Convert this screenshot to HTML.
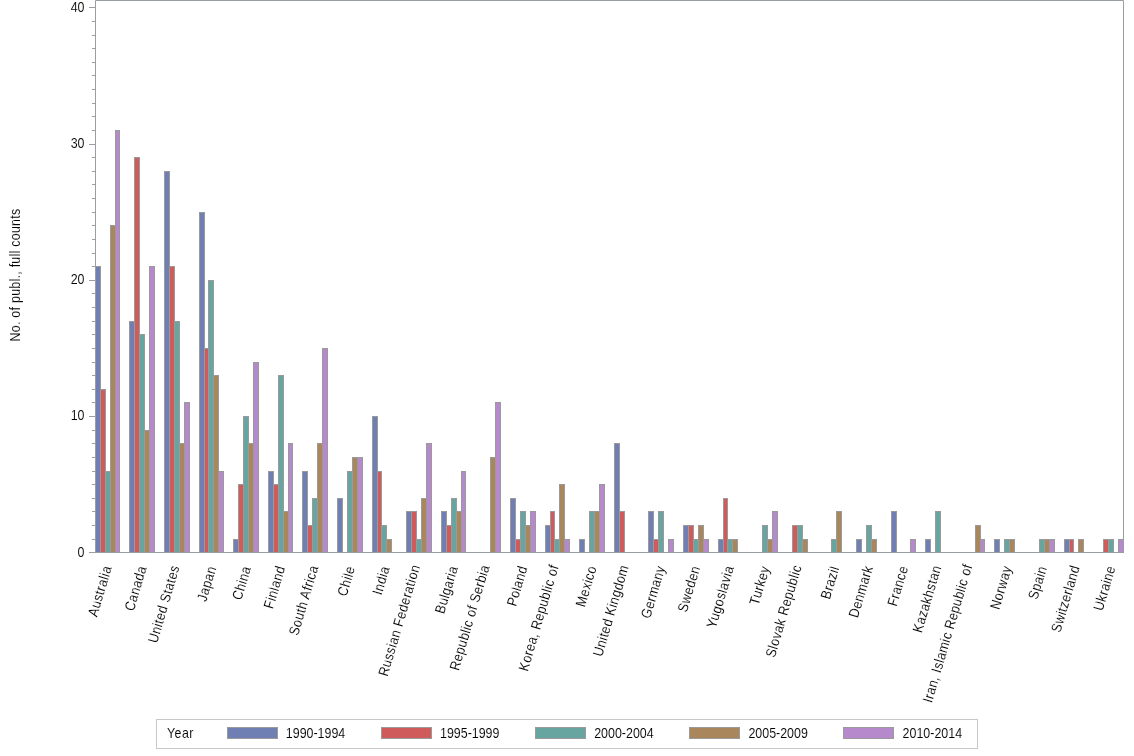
<!DOCTYPE html>
<html><head><meta charset="utf-8"><style>
html,body{margin:0;padding:0;background:#fff;width:1134px;height:756px;overflow:hidden}
svg{display:block;will-change:transform}
text{font-family:"Liberation Sans",sans-serif;font-size:14.3px;fill:#000;stroke:#fff;stroke-width:0.1px}
</style></head><body>
<svg width="1134" height="756" viewBox="0 0 1134 756">
<rect width="1134" height="756" fill="#fff"/>
<rect x="95.5" y="266.5" width="5" height="286" fill="#6F7EB3" stroke="#9A9A9A"/>
<rect x="100.5" y="389.5" width="5" height="163" fill="#D05B5B" stroke="#9A9A9A"/>
<rect x="105.5" y="471.5" width="5" height="81" fill="#66A5A0" stroke="#9A9A9A"/>
<rect x="110.5" y="225.5" width="5" height="327" fill="#A9865B" stroke="#9A9A9A"/>
<rect x="115.5" y="130.5" width="4" height="422" fill="#B689CD" stroke="#9A9A9A"/>
<rect x="129.5" y="321.5" width="5" height="231" fill="#6F7EB3" stroke="#9A9A9A"/>
<rect x="134.5" y="157.5" width="5" height="395" fill="#D05B5B" stroke="#9A9A9A"/>
<rect x="139.5" y="334.5" width="5" height="218" fill="#66A5A0" stroke="#9A9A9A"/>
<rect x="144.5" y="430.5" width="5" height="122" fill="#A9865B" stroke="#9A9A9A"/>
<rect x="149.5" y="266.5" width="5" height="286" fill="#B689CD" stroke="#9A9A9A"/>
<rect x="164.5" y="171.5" width="5" height="381" fill="#6F7EB3" stroke="#9A9A9A"/>
<rect x="169.5" y="266.5" width="5" height="286" fill="#D05B5B" stroke="#9A9A9A"/>
<rect x="174.5" y="321.5" width="5" height="231" fill="#66A5A0" stroke="#9A9A9A"/>
<rect x="179.5" y="443.5" width="5" height="109" fill="#A9865B" stroke="#9A9A9A"/>
<rect x="184.5" y="402.5" width="5" height="150" fill="#B689CD" stroke="#9A9A9A"/>
<rect x="199.5" y="212.5" width="5" height="340" fill="#6F7EB3" stroke="#9A9A9A"/>
<rect x="204.5" y="348.5" width="4" height="204" fill="#D05B5B" stroke="#9A9A9A"/>
<rect x="208.5" y="280.5" width="5" height="272" fill="#66A5A0" stroke="#9A9A9A"/>
<rect x="213.5" y="375.5" width="5" height="177" fill="#A9865B" stroke="#9A9A9A"/>
<rect x="218.5" y="471.5" width="5" height="81" fill="#B689CD" stroke="#9A9A9A"/>
<rect x="233.5" y="539.5" width="5" height="13" fill="#6F7EB3" stroke="#9A9A9A"/>
<rect x="238.5" y="484.5" width="5" height="68" fill="#D05B5B" stroke="#9A9A9A"/>
<rect x="243.5" y="416.5" width="5" height="136" fill="#66A5A0" stroke="#9A9A9A"/>
<rect x="248.5" y="443.5" width="5" height="109" fill="#A9865B" stroke="#9A9A9A"/>
<rect x="253.5" y="362.5" width="5" height="190" fill="#B689CD" stroke="#9A9A9A"/>
<rect x="268.5" y="471.5" width="5" height="81" fill="#6F7EB3" stroke="#9A9A9A"/>
<rect x="273.5" y="484.5" width="5" height="68" fill="#D05B5B" stroke="#9A9A9A"/>
<rect x="278.5" y="375.5" width="5" height="177" fill="#66A5A0" stroke="#9A9A9A"/>
<rect x="283.5" y="511.5" width="5" height="41" fill="#A9865B" stroke="#9A9A9A"/>
<rect x="288.5" y="443.5" width="4" height="109" fill="#B689CD" stroke="#9A9A9A"/>
<rect x="302.5" y="471.5" width="5" height="81" fill="#6F7EB3" stroke="#9A9A9A"/>
<rect x="307.5" y="525.5" width="5" height="27" fill="#D05B5B" stroke="#9A9A9A"/>
<rect x="312.5" y="498.5" width="5" height="54" fill="#66A5A0" stroke="#9A9A9A"/>
<rect x="317.5" y="443.5" width="5" height="109" fill="#A9865B" stroke="#9A9A9A"/>
<rect x="322.5" y="348.5" width="5" height="204" fill="#B689CD" stroke="#9A9A9A"/>
<rect x="337.5" y="498.5" width="5" height="54" fill="#6F7EB3" stroke="#9A9A9A"/>
<rect x="347.5" y="471.5" width="5" height="81" fill="#66A5A0" stroke="#9A9A9A"/>
<rect x="352.5" y="457.5" width="5" height="95" fill="#A9865B" stroke="#9A9A9A"/>
<rect x="357.5" y="457.5" width="5" height="95" fill="#B689CD" stroke="#9A9A9A"/>
<rect x="372.5" y="416.5" width="5" height="136" fill="#6F7EB3" stroke="#9A9A9A"/>
<rect x="377.5" y="471.5" width="4" height="81" fill="#D05B5B" stroke="#9A9A9A"/>
<rect x="381.5" y="525.5" width="5" height="27" fill="#66A5A0" stroke="#9A9A9A"/>
<rect x="386.5" y="539.5" width="5" height="13" fill="#A9865B" stroke="#9A9A9A"/>
<rect x="406.5" y="511.5" width="5" height="41" fill="#6F7EB3" stroke="#9A9A9A"/>
<rect x="411.5" y="511.5" width="5" height="41" fill="#D05B5B" stroke="#9A9A9A"/>
<rect x="416.5" y="539.5" width="5" height="13" fill="#66A5A0" stroke="#9A9A9A"/>
<rect x="421.5" y="498.5" width="5" height="54" fill="#A9865B" stroke="#9A9A9A"/>
<rect x="426.5" y="443.5" width="5" height="109" fill="#B689CD" stroke="#9A9A9A"/>
<rect x="441.5" y="511.5" width="5" height="41" fill="#6F7EB3" stroke="#9A9A9A"/>
<rect x="446.5" y="525.5" width="5" height="27" fill="#D05B5B" stroke="#9A9A9A"/>
<rect x="451.5" y="498.5" width="5" height="54" fill="#66A5A0" stroke="#9A9A9A"/>
<rect x="456.5" y="511.5" width="5" height="41" fill="#A9865B" stroke="#9A9A9A"/>
<rect x="461.5" y="471.5" width="4" height="81" fill="#B689CD" stroke="#9A9A9A"/>
<rect x="490.5" y="457.5" width="5" height="95" fill="#A9865B" stroke="#9A9A9A"/>
<rect x="495.5" y="402.5" width="5" height="150" fill="#B689CD" stroke="#9A9A9A"/>
<rect x="510.5" y="498.5" width="5" height="54" fill="#6F7EB3" stroke="#9A9A9A"/>
<rect x="515.5" y="539.5" width="5" height="13" fill="#D05B5B" stroke="#9A9A9A"/>
<rect x="520.5" y="511.5" width="5" height="41" fill="#66A5A0" stroke="#9A9A9A"/>
<rect x="525.5" y="525.5" width="5" height="27" fill="#A9865B" stroke="#9A9A9A"/>
<rect x="530.5" y="511.5" width="5" height="41" fill="#B689CD" stroke="#9A9A9A"/>
<rect x="545.5" y="525.5" width="5" height="27" fill="#6F7EB3" stroke="#9A9A9A"/>
<rect x="550.5" y="511.5" width="4" height="41" fill="#D05B5B" stroke="#9A9A9A"/>
<rect x="554.5" y="539.5" width="5" height="13" fill="#66A5A0" stroke="#9A9A9A"/>
<rect x="559.5" y="484.5" width="5" height="68" fill="#A9865B" stroke="#9A9A9A"/>
<rect x="564.5" y="539.5" width="5" height="13" fill="#B689CD" stroke="#9A9A9A"/>
<rect x="579.5" y="539.5" width="5" height="13" fill="#6F7EB3" stroke="#9A9A9A"/>
<rect x="589.5" y="511.5" width="5" height="41" fill="#66A5A0" stroke="#9A9A9A"/>
<rect x="594.5" y="511.5" width="5" height="41" fill="#A9865B" stroke="#9A9A9A"/>
<rect x="599.5" y="484.5" width="5" height="68" fill="#B689CD" stroke="#9A9A9A"/>
<rect x="614.5" y="443.5" width="5" height="109" fill="#6F7EB3" stroke="#9A9A9A"/>
<rect x="619.5" y="511.5" width="5" height="41" fill="#D05B5B" stroke="#9A9A9A"/>
<rect x="648.5" y="511.5" width="5" height="41" fill="#6F7EB3" stroke="#9A9A9A"/>
<rect x="653.5" y="539.5" width="5" height="13" fill="#D05B5B" stroke="#9A9A9A"/>
<rect x="658.5" y="511.5" width="5" height="41" fill="#66A5A0" stroke="#9A9A9A"/>
<rect x="668.5" y="539.5" width="5" height="13" fill="#B689CD" stroke="#9A9A9A"/>
<rect x="683.5" y="525.5" width="5" height="27" fill="#6F7EB3" stroke="#9A9A9A"/>
<rect x="688.5" y="525.5" width="5" height="27" fill="#D05B5B" stroke="#9A9A9A"/>
<rect x="693.5" y="539.5" width="5" height="13" fill="#66A5A0" stroke="#9A9A9A"/>
<rect x="698.5" y="525.5" width="5" height="27" fill="#A9865B" stroke="#9A9A9A"/>
<rect x="703.5" y="539.5" width="5" height="13" fill="#B689CD" stroke="#9A9A9A"/>
<rect x="718.5" y="539.5" width="5" height="13" fill="#6F7EB3" stroke="#9A9A9A"/>
<rect x="723.5" y="498.5" width="4" height="54" fill="#D05B5B" stroke="#9A9A9A"/>
<rect x="727.5" y="539.5" width="5" height="13" fill="#66A5A0" stroke="#9A9A9A"/>
<rect x="732.5" y="539.5" width="5" height="13" fill="#A9865B" stroke="#9A9A9A"/>
<rect x="762.5" y="525.5" width="5" height="27" fill="#66A5A0" stroke="#9A9A9A"/>
<rect x="767.5" y="539.5" width="5" height="13" fill="#A9865B" stroke="#9A9A9A"/>
<rect x="772.5" y="511.5" width="5" height="41" fill="#B689CD" stroke="#9A9A9A"/>
<rect x="792.5" y="525.5" width="5" height="27" fill="#D05B5B" stroke="#9A9A9A"/>
<rect x="797.5" y="525.5" width="5" height="27" fill="#66A5A0" stroke="#9A9A9A"/>
<rect x="802.5" y="539.5" width="5" height="13" fill="#A9865B" stroke="#9A9A9A"/>
<rect x="831.5" y="539.5" width="5" height="13" fill="#66A5A0" stroke="#9A9A9A"/>
<rect x="836.5" y="511.5" width="5" height="41" fill="#A9865B" stroke="#9A9A9A"/>
<rect x="856.5" y="539.5" width="5" height="13" fill="#6F7EB3" stroke="#9A9A9A"/>
<rect x="866.5" y="525.5" width="5" height="27" fill="#66A5A0" stroke="#9A9A9A"/>
<rect x="871.5" y="539.5" width="5" height="13" fill="#A9865B" stroke="#9A9A9A"/>
<rect x="891.5" y="511.5" width="5" height="41" fill="#6F7EB3" stroke="#9A9A9A"/>
<rect x="910.5" y="539.5" width="5" height="13" fill="#B689CD" stroke="#9A9A9A"/>
<rect x="925.5" y="539.5" width="5" height="13" fill="#6F7EB3" stroke="#9A9A9A"/>
<rect x="935.5" y="511.5" width="5" height="41" fill="#66A5A0" stroke="#9A9A9A"/>
<rect x="975.5" y="525.5" width="5" height="27" fill="#A9865B" stroke="#9A9A9A"/>
<rect x="980.5" y="539.5" width="4" height="13" fill="#B689CD" stroke="#9A9A9A"/>
<rect x="994.5" y="539.5" width="5" height="13" fill="#6F7EB3" stroke="#9A9A9A"/>
<rect x="1004.5" y="539.5" width="5" height="13" fill="#66A5A0" stroke="#9A9A9A"/>
<rect x="1009.5" y="539.5" width="5" height="13" fill="#A9865B" stroke="#9A9A9A"/>
<rect x="1039.5" y="539.5" width="5" height="13" fill="#66A5A0" stroke="#9A9A9A"/>
<rect x="1044.5" y="539.5" width="5" height="13" fill="#A9865B" stroke="#9A9A9A"/>
<rect x="1049.5" y="539.5" width="5" height="13" fill="#B689CD" stroke="#9A9A9A"/>
<rect x="1064.5" y="539.5" width="5" height="13" fill="#6F7EB3" stroke="#9A9A9A"/>
<rect x="1069.5" y="539.5" width="4" height="13" fill="#D05B5B" stroke="#9A9A9A"/>
<rect x="1078.5" y="539.5" width="5" height="13" fill="#A9865B" stroke="#9A9A9A"/>
<rect x="1103.5" y="539.5" width="5" height="13" fill="#D05B5B" stroke="#9A9A9A"/>
<rect x="1108.5" y="539.5" width="5" height="13" fill="#66A5A0" stroke="#9A9A9A"/>
<rect x="1118.5" y="539.5" width="5" height="13" fill="#B689CD" stroke="#9A9A9A"/>
<path d="M95.5 553V0.5H1123.5V553M89 552.5H1124" fill="none" stroke="#989EA1"/>
<text transform="translate(84.50,556.55) scale(0.87,1)" text-anchor="end" letter-spacing="0.0">0</text>
<text transform="translate(84.50,420.30) scale(0.87,1)" text-anchor="end" letter-spacing="0.0">10</text>
<text transform="translate(84.50,284.05) scale(0.87,1)" text-anchor="end" letter-spacing="0.0">20</text>
<text transform="translate(84.50,147.80) scale(0.87,1)" text-anchor="end" letter-spacing="0.0">30</text>
<text transform="translate(84.50,11.55) scale(0.87,1)" text-anchor="end" letter-spacing="0.0">40</text>
<path d="M89 552.5H95M92 539.5H95M92 525.5H95M92 511.5H95M92 498.5H95M92 484.5H95M92 471.5H95M92 457.5H95M92 443.5H95M92 430.5H95M89 416.5H95M92 402.5H95M92 389.5H95M92 375.5H95M92 362.5H95M92 348.5H95M92 334.5H95M92 321.5H95M92 307.5H95M92 293.5H95M89 280.5H95M92 266.5H95M92 253.5H95M92 239.5H95M92 225.5H95M92 212.5H95M92 198.5H95M92 184.5H95M92 171.5H95M92 157.5H95M89 144.5H95M92 130.5H95M92 116.5H95M92 103.5H95M92 89.5H95M92 75.5H95M92 62.5H95M92 48.5H95M92 35.5H95M92 21.5H95M89 7.5H95" fill="none" stroke="#989EA1"/>
<text transform="translate(104.47,592.39) rotate(-73.5) scale(0.87,1)" text-anchor="middle" letter-spacing="0.5">Australia</text>
<text transform="translate(140.23,589.55) rotate(-73.5) scale(0.87,1)" text-anchor="middle" letter-spacing="0.5">Canada</text>
<text transform="translate(168.36,605.34) rotate(-73.5) scale(0.87,1)" text-anchor="middle" letter-spacing="0.5">United States</text>
<text transform="translate(211.35,584.87) rotate(-73.5) scale(0.87,1)" text-anchor="middle" letter-spacing="0.5">Japan</text>
<text transform="translate(246.21,584.24) rotate(-73.5) scale(0.87,1)" text-anchor="middle" letter-spacing="0.5">China</text>
<text transform="translate(279.08,588.47) rotate(-73.5) scale(0.87,1)" text-anchor="middle" letter-spacing="0.5">Finland</text>
<text transform="translate(308.28,601.62) rotate(-73.5) scale(0.87,1)" text-anchor="middle" letter-spacing="0.5">South Africa</text>
<text transform="translate(350.80,582.31) rotate(-73.5) scale(0.87,1)" text-anchor="middle" letter-spacing="0.5">Chile</text>
<text transform="translate(385.66,581.68) rotate(-73.5) scale(0.87,1)" text-anchor="middle" letter-spacing="0.5">India</text>
<text transform="translate(403.85,621.69) rotate(-73.5) scale(0.87,1)" text-anchor="middle" letter-spacing="0.5">Russian Federation</text>
<text transform="translate(451.08,590.91) rotate(-73.5) scale(0.87,1)" text-anchor="middle" letter-spacing="0.5">Bulgaria</text>
<text transform="translate(474.23,618.81) rotate(-73.5) scale(0.87,1)" text-anchor="middle" letter-spacing="0.5">Republic of Serbia</text>
<text transform="translate(521.75,587.32) rotate(-73.5) scale(0.87,1)" text-anchor="middle" letter-spacing="0.5">Poland</text>
<text transform="translate(543.30,619.13) rotate(-73.5) scale(0.87,1)" text-anchor="middle" letter-spacing="0.5">Korea, Republic of</text>
<text transform="translate(590.82,587.62) rotate(-73.5) scale(0.87,1)" text-anchor="middle" letter-spacing="0.5">Mexico</text>
<text transform="translate(615.45,611.93) rotate(-73.5) scale(0.87,1)" text-anchor="middle" letter-spacing="0.5">United Kingdom</text>
<text transform="translate(657.71,593.26) rotate(-73.5) scale(0.87,1)" text-anchor="middle" letter-spacing="0.5">Germany</text>
<text transform="translate(693.57,590.19) rotate(-73.5) scale(0.87,1)" text-anchor="middle" letter-spacing="0.5">Sweden</text>
<text transform="translate(724.96,598.03) rotate(-73.5) scale(0.87,1)" text-anchor="middle" letter-spacing="0.5">Yugoslavia</text>
<text transform="translate(764.17,586.77) rotate(-73.5) scale(0.87,1)" text-anchor="middle" letter-spacing="0.5">Turkey</text>
<text transform="translate(788.24,612.45) rotate(-73.5) scale(0.87,1)" text-anchor="middle" letter-spacing="0.5">Slovak Republic</text>
<text transform="translate(834.60,583.79) rotate(-73.5) scale(0.87,1)" text-anchor="middle" letter-spacing="0.5">Brazil</text>
<text transform="translate(865.44,592.94) rotate(-73.5) scale(0.87,1)" text-anchor="middle" letter-spacing="0.5">Denmark</text>
<text transform="translate(902.35,587.31) rotate(-73.5) scale(0.87,1)" text-anchor="middle" letter-spacing="0.5">France</text>
<text transform="translate(931.64,600.26) rotate(-73.5) scale(0.87,1)" text-anchor="middle" letter-spacing="0.5">Kazakhstan</text>
<text transform="translate(952.16,634.59) rotate(-73.5) scale(0.87,1)" text-anchor="middle" letter-spacing="0.5">Iran, Islamic Republic of</text>
<text transform="translate(1005.50,588.90) rotate(-73.5) scale(0.87,1)" text-anchor="middle" letter-spacing="0.5">Norway</text>
<text transform="translate(1042.15,583.91) rotate(-73.5) scale(0.87,1)" text-anchor="middle" letter-spacing="0.5">Spain</text>
<text transform="translate(1070.09,600.14) rotate(-73.5) scale(0.87,1)" text-anchor="middle" letter-spacing="0.5">Switzerland</text>
<text transform="translate(1109.09,589.42) rotate(-73.5) scale(0.87,1)" text-anchor="middle" letter-spacing="0.5">Ukraine</text>
<text transform="translate(20.20,275.00) rotate(-90) scale(0.87,1)" text-anchor="middle" letter-spacing="0.3">No. of publ., full counts</text>
<rect x="156.5" y="719.5" width="821" height="29" fill="none" stroke="#C8C8C8"/>
<text transform="translate(167.00,738.00) scale(0.87,1)" letter-spacing="0.5">Year</text>
<rect x="227.5" y="727.5" width="50" height="11" fill="#6F7EB3" stroke="#9A9A9A"/>
<text transform="translate(285.80,738.00) scale(0.87,1)" letter-spacing="0.0">1990-1994</text>
<rect x="381.5" y="727.5" width="50" height="11" fill="#D05B5B" stroke="#9A9A9A"/>
<text transform="translate(440.00,738.00) scale(0.87,1)" letter-spacing="0.0">1995-1999</text>
<rect x="535.5" y="727.5" width="50" height="11" fill="#66A5A0" stroke="#9A9A9A"/>
<text transform="translate(594.20,738.00) scale(0.87,1)" letter-spacing="0.0">2000-2004</text>
<rect x="689.5" y="727.5" width="50" height="11" fill="#A9865B" stroke="#9A9A9A"/>
<text transform="translate(748.40,738.00) scale(0.87,1)" letter-spacing="0.0">2005-2009</text>
<rect x="843.5" y="727.5" width="50" height="11" fill="#B689CD" stroke="#9A9A9A"/>
<text transform="translate(902.60,738.00) scale(0.87,1)" letter-spacing="0.0">2010-2014</text>
</svg></body></html>
